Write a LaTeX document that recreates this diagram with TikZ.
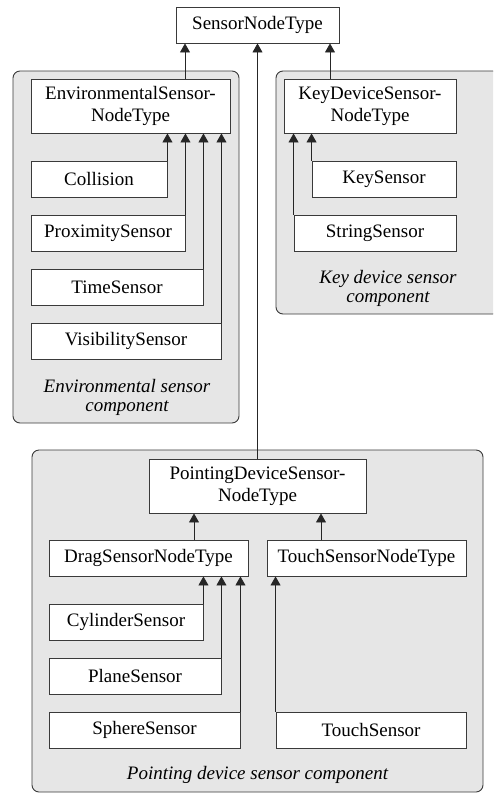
\documentclass[tikz,border=0pt]{standalone}
\usepackage{fontspec}
\setmainfont{Liberation Serif}
\usetikzlibrary{arrows.meta}
\definecolor{grpfill}{HTML}{E6E6E6}
\definecolor{lnc}{HTML}{3A3A3A}
\begin{document}
\begin{tikzpicture}[x=1pt,y=-1pt,
  box/.style={draw=lnc, fill=white, line width=0.9pt, inner sep=0pt, align=center,
    font=\fontsize{19}{22}\selectfont},
  grp/.style={draw=lnc, fill=grpfill, line width=0.9pt, rounded corners=7pt},
  lbl/.style={inner sep=0pt, align=center, font=\fontsize{19}{19}\selectfont\itshape},
  arr/.style={draw=black!85, line width=0.8pt, -{Triangle[length=9pt,width=10pt]}}]
\useasboundingbox (0,0) rectangle (493,793);
\clip (0,0) rectangle (493,793);
% groups
\draw[grp] (13,71) rectangle (239,423);
\draw[grp] (276,71) rectangle (500,314);
\draw[grp] (32,450) rectangle (483,792);
% nodes
\node[box, minimum width=163pt, minimum height=36pt] (top) at (257.5,25) {SensorNodeType};
\node[box, minimum width=199pt, minimum height=54pt] (env) at (130.5,106) {EnvironmentalSensor-\\NodeType};
\node[box, minimum width=136pt, minimum height=36pt] (col) at (99,179) {Collision};
\node[box, minimum width=154pt, minimum height=36pt] (prox) at (108,233) {ProximitySensor};
\node[box, minimum width=172pt, minimum height=36pt] (time) at (117,287) {TimeSensor};
\node[box, minimum width=190pt, minimum height=36pt] (vis) at (126,341) {VisibilitySensor};
\node[box, minimum width=172pt, minimum height=54pt] (keyt) at (370,106) {KeyDeviceSensor-\\NodeType};
\node[box, minimum width=144pt, minimum height=36pt] (keys) at (384,179) {KeySensor};
\node[box, minimum width=162pt, minimum height=36pt] (strs) at (375,233) {StringSensor};
\node[box, minimum width=217pt, minimum height=54pt] (pds) at (257.5,486) {PointingDeviceSensor-\\NodeType};
\node[box, minimum width=199pt, minimum height=36pt] (drag) at (148.5,558) {DragSensorNodeType};
\node[box, minimum width=199pt, minimum height=36pt] (tsnt) at (366.5,558) {TouchSensorNodeType};
\node[box, minimum width=154pt, minimum height=36pt] (cyl) at (126,622) {CylinderSensor};
\node[box, minimum width=172pt, minimum height=36pt] (plane) at (135,676) {PlaneSensor};
\node[box, minimum width=191pt, minimum height=36pt] (sph) at (144.5,730) {SphereSensor};
\node[box, minimum width=190pt, minimum height=36pt] (touch) at (371,730) {TouchSensor};
% labels
\node[lbl] (envl) at (127,397) {Environmental sensor\\component};
\node[lbl] (keyl) at (388,288) {Key device sensor\\component};
\node[lbl] (pdl) at (257.5,775) {Pointing device sensor component};
% helper coordinates
\coordinate (xa) at (185,0);
\coordinate (xb) at (330,0);
\coordinate (xc) at (194,0);
\coordinate (xd) at (321,0);
% connectors
\draw[arr] (xa |- env.north) -- (xa |- top.south);
\draw[arr] (xb |- keyt.north) -- (xb |- top.south);
\draw[arr] (pds.north) -- (top.south);
\draw[arr] (col.north east) -- (col.north east |- env.south);
\draw[arr] (prox.north east) -- (prox.north east |- env.south);
\draw[arr] (time.north east) -- (time.north east |- env.south);
\draw[arr] (vis.north east) -- (vis.north east |- env.south);
\draw[arr] (keys.north west) -- (keys.north west |- keyt.south);
\draw[arr] (strs.north west) -- (strs.north west |- keyt.south);
\draw[arr] (xc |- drag.north) -- (xc |- pds.south);
\draw[arr] (xd |- tsnt.north) -- (xd |- pds.south);
\draw[arr] (cyl.north east) -- (cyl.north east |- drag.south);
\draw[arr] (plane.north east) -- (plane.north east |- drag.south);
\draw[arr] (sph.north east) -- (sph.north east |- drag.south);
\draw[arr] (touch.north west) -- (touch.north west |- tsnt.south);
\end{tikzpicture}
\end{document}
